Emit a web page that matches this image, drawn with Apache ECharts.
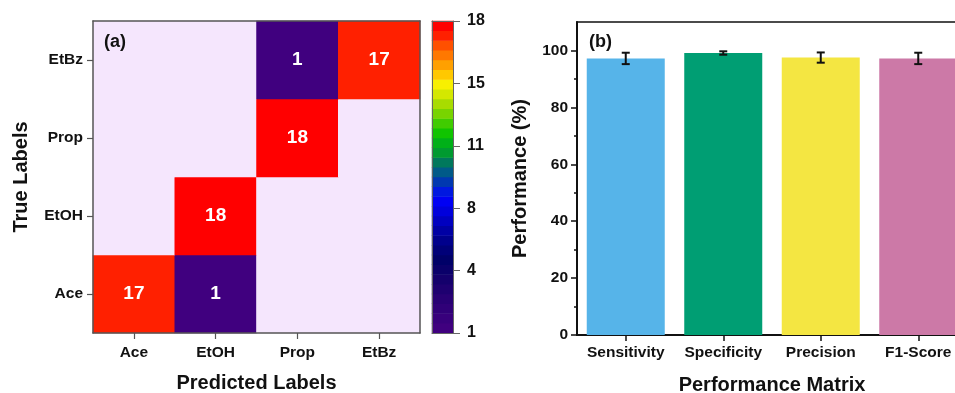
<!DOCTYPE html>
<html>
<head>
<meta charset="utf-8">
<script src="https://cdn.jsdelivr.net/npm/echarts@6/dist/echarts.min.js"></script>
<style>
html,body{margin:0;padding:0;background:#fff;}
#chart{width:955px;height:393px;}
</style>
</head>
<body>
<div id="chart"></div>
<script>
// ---- Data ----
var classLabels = ['Ace', 'EtOH', 'Prop', 'EtBz'];
// confusion matrix: rows = true label, columns = predicted label
var confusionAce  = [17, 1, 0, 0];
var confusionEtOH = [0, 18, 0, 0];
var confusionProp = [0, 0, 18, 0];
var confusionEtBz = [0, 0, 1, 17];
var colorbarTicks = [1, 4, 8, 11, 15, 18];

var metricNames = ['Sensitivity', 'Specificity', 'Precision', 'F1-Score'];
var metricValues = [97.2, 99.1, 97.5, 97.2];
var metricErrors = [2.0, 0.6, 1.8, 2.0];
var perfTicks = [0, 20, 40, 60, 80, 100];
var perfMinorTicks = [10, 30, 50, 70, 90];

// ---- Styles ----
var metricColors = ['#56B4E9', '#009E73', '#F4E642', '#CC79A7'];
var zeroColor = '#F5E6FD';
var palette = [
  '#40007f','#38007c','#300078','#280074','#1e0070','#14006c','#0a006a','#000068',
  '#000078','#00008c','#0000a4','#0000c0','#0000dc','#0000f4','#0018e0','#0038b0',
  '#005a88','#00785c','#009a30','#00b018','#10c400','#40cc00','#78d400','#a8dc00',
  '#d4e800','#f8f000','#ffc800','#ffa000','#ff7800','#ff5000','#ff2000','#ff0000'
];
var FONT = '"Liberation Sans", Arial, sans-serif';

var matrixRows = [confusionAce, confusionEtOH, confusionProp, confusionEtBz];
var heatData = [];
matrixRows.forEach(function (row, r) {
  row.forEach(function (v, c) { heatData.push([c, r, v]); });
});

var vMin = colorbarTicks[0], vMax = colorbarTicks[colorbarTicks.length - 1];
var nBands = palette.length;
var pieces = [{ lt: 0.5, color: zeroColor }];
var bandCats = [];
var bandData = [];
for (var i = 0; i < nBands; i++) {
  var lo = vMin + (vMax - vMin) * i / nBands;
  var hi = vMin + (vMax - vMin) * (i + 1) / nBands;
  var p = { gte: lo, color: palette[i] };
  if (i < nBands - 1) p.lt = hi; else p.lte = hi + 1;
  pieces.push(p);
  bandCats.push(String(i));
  bandData.push([0, i, (lo + hi) / 2]);
}

var errData = metricValues.map(function (v, i) { return [i, v, metricErrors[i]]; });

var labelStyle = { fontFamily: FONT, fontWeight: 'bold', fontSize: 15.5, color: '#111' };
var nameStyle = { fontFamily: FONT, fontWeight: 'bold', fontSize: 20, color: '#111' };
var frameLine = { show: true, lineStyle: { color: '#555', width: 1.5 } };

var chart = echarts.init(document.getElementById('chart'), null, { renderer: 'canvas' });
chart.setOption({
  animation: false,
  backgroundColor: '#fff',
  title: [
    { text: '(a)', left: 99, top: 28, textStyle: { fontFamily: FONT, fontWeight: 'bold', fontSize: 18, color: '#111' } },
    { text: '(b)', left: 584, top: 28, textStyle: { fontFamily: FONT, fontWeight: 'bold', fontSize: 18, color: '#111' } }
  ],
  grid: [
    { left: 93, top: 21, width: 327, height: 312, outerBoundsMode: 'none' },
    { left: 577, top: 22, width: 390, height: 313, show: true, borderColor: '#111', borderWidth: 1.5, outerBoundsMode: 'none' },
    { left: 432, top: 21, width: 21, height: 312, outerBoundsMode: 'none' }
  ],
  visualMap: {
    type: 'piecewise', show: false, seriesIndex: [0, 1], dimension: 2,
    pieces: pieces
  },
  xAxis: [
    { gridIndex: 0, type: 'category', data: classLabels, position: 'bottom',
      name: 'Predicted Labels', nameLocation: 'middle', nameGap: 40, nameTextStyle: nameStyle,
      axisLine: frameLine, axisTick: { show: true, alignWithLabel: true, length: 6, lineStyle: { color: '#555', width: 1.2 } },
      axisLabel: Object.assign({ margin: 12, interval: 0 }, labelStyle), splitLine: { show: false }, z: 10 },
    { gridIndex: 0, type: 'category', data: classLabels, position: 'top',
      axisLine: frameLine, axisTick: { show: false }, axisLabel: { show: false }, z: 10 },
    { gridIndex: 1, type: 'category', data: metricNames, position: 'bottom',
      name: 'Performance Matrix', nameLocation: 'middle', nameGap: 40, nameTextStyle: nameStyle,
      axisLine: { show: true, lineStyle: { color: '#111', width: 2 } },
      axisTick: { show: true, alignWithLabel: true, length: 6, lineStyle: { color: '#111', width: 1.5 } },
      axisLabel: Object.assign({ margin: 10, interval: 0 }, labelStyle) },
    { gridIndex: 2, type: 'category', data: [''], position: 'bottom',
      axisLine: { show: true, lineStyle: { color: '#666', width: 1 } }, axisTick: { show: false }, axisLabel: { show: false }, z: 10 },
    { gridIndex: 2, type: 'category', data: [''], position: 'top',
      axisLine: { show: true, lineStyle: { color: '#666', width: 1 } }, axisTick: { show: false }, axisLabel: { show: false }, z: 10 }
  ],
  yAxis: [
    { gridIndex: 0, type: 'category', data: classLabels, position: 'left',
      name: 'True Labels', nameLocation: 'middle', nameGap: 62, nameTextStyle: nameStyle,
      axisLine: frameLine, axisTick: { show: true, alignWithLabel: true, length: 6, lineStyle: { color: '#555', width: 1.2 } },
      axisLabel: Object.assign({ margin: 10, interval: 0 }, labelStyle), splitLine: { show: false }, z: 10 },
    { gridIndex: 0, type: 'category', data: classLabels, position: 'right',
      axisLine: frameLine, axisTick: { show: false }, axisLabel: { show: false }, z: 10 },
    { gridIndex: 1, type: 'value', min: 0, max: 110, interval: 20, position: 'left',
      name: 'Performance (%)', nameLocation: 'middle', nameGap: 47, nameTextStyle: nameStyle,
      axisLine: { show: true, lineStyle: { color: '#111', width: 2 } },
      axisTick: { show: true, length: 6, customValues: perfTicks, lineStyle: { color: '#111', width: 1.5 } },
      axisLabel: Object.assign({ margin: 9, customValues: perfTicks }, labelStyle),
      splitLine: { show: false } },
    { gridIndex: 2, type: 'category', data: bandCats, position: 'left',
      axisLine: { show: true, lineStyle: { color: '#666', width: 1 } }, axisTick: { show: false }, axisLabel: { show: false }, z: 10 },
    { gridIndex: 2, type: 'value', min: 0, max: vMax - vMin, interval: (vMax - vMin) / (colorbarTicks.length - 1), position: 'right',
      axisLine: { show: true, lineStyle: { color: '#666', width: 1 } },
      axisTick: { show: true, length: 7, lineStyle: { color: '#666', width: 1 } },
      axisLabel: { fontFamily: FONT, fontWeight: 'bold', fontSize: 16, color: '#111', margin: 14,
        formatter: function (v) { var k = Math.round(v / ((vMax - vMin) / (colorbarTicks.length - 1))); return String(colorbarTicks[k]); } },
      splitLine: { show: false }, z: 10 },
    { gridIndex: 1, type: 'value', min: 0, max: 110, interval: 10, position: 'left', offset: 0,
      axisLine: { show: false },
      axisTick: { show: true, length: 3, customValues: perfMinorTicks, lineStyle: { color: '#111', width: 1.5 } },
      axisLabel: { show: false }, splitLine: { show: false } }
  ],
  series: [
    { type: 'heatmap', xAxisIndex: 0, yAxisIndex: 0, data: heatData,
      label: { show: true, fontFamily: FONT, fontWeight: 'bold', fontSize: 19, color: '#fff',
        formatter: function (p) { return p.value[2] === 0 ? '' : String(p.value[2]); } },
      itemStyle: { borderWidth: 0 }, emphasis: { disabled: true } },
    { type: 'heatmap', xAxisIndex: 3, yAxisIndex: 3, data: bandData,
      label: { show: false }, itemStyle: { borderWidth: 0 }, emphasis: { disabled: true } },
    { type: 'bar', xAxisIndex: 2, yAxisIndex: 2, barCategoryGap: '20%',
      data: metricValues.map(function (v, i) { return { value: v, itemStyle: { color: metricColors[i] } }; }) },
    { type: 'custom', xAxisIndex: 2, yAxisIndex: 2, data: errData, z: 5,
      renderItem: function (params, api) {
        var x = api.value(0), v = api.value(1), e = api.value(2);
        var top = api.coord([x, v + e]);
        var bot = api.coord([x, v - e]);
        var w = 4;
        var st = { stroke: '#111', lineWidth: 2 };
        return { type: 'group', children: [
          { type: 'line', shape: { x1: top[0], y1: top[1], x2: bot[0], y2: bot[1] }, style: st },
          { type: 'line', shape: { x1: top[0] - w, y1: top[1], x2: top[0] + w, y2: top[1] }, style: st },
          { type: 'line', shape: { x1: bot[0] - w, y1: bot[1], x2: bot[0] + w, y2: bot[1] }, style: st }
        ] };
      } }
  ]
});
</script>
</body>
</html>
